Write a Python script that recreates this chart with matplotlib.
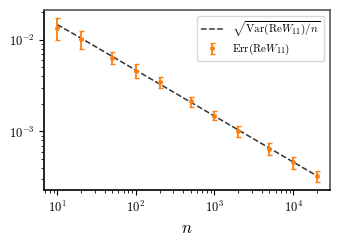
import numpy as np
import matplotlib
matplotlib.use("Agg")
import matplotlib.pyplot as plt

plt.rcParams["mathtext.fontset"] = "cm"
plt.rcParams["font.family"] = "serif"
plt.rcParams["font.serif"] = ["cmr10", "DejaVu Serif"]
plt.rcParams["axes.formatter.use_mathtext"] = True

# sample sizes
n_vals = [10, 20, 50, 100, 200, 500, 1000, 2000, 5000, 10000, 20000]

# measured error estimate and its uncertainty
err_vals = [0.0135, 0.0102, 0.00637, 0.0046, 0.00343, 0.00212,
            0.00149, 0.00102, 0.00065, 0.00046, 0.000327]
err_bars = [0.0036, 0.0023, 0.0010, 0.0008, 0.00045, 0.00026,
            0.00017, 0.00014, 0.00009, 0.00007, 0.000045]

# sqrt(Var/n) reference line
ref_vals = [0.0146, 0.0104, 0.00658, 0.00465, 0.00329, 0.00208,
            0.00147, 0.00104, 0.000658, 0.000465, 0.000329]

fig = plt.figure(figsize=(3.4, 2.4), dpi=100)
ax = fig.add_axes([0.13, 0.208, 0.84, 0.75])

ax.plot(n_vals, ref_vals, "--", color="#333333", lw=1.1,
        label=r"$\sqrt{\mathrm{Var}(\mathrm{Re}W_{11})/n}$")
ax.errorbar(n_vals, err_vals, yerr=err_bars, fmt=".", color="#ff7f0e",
            ms=5, elinewidth=1.3, capsize=1.8, capthick=1.0,
            label=r"$\mathrm{Err}(\mathrm{Re}W_{11})$")

ax.set_xscale("log")
ax.set_yscale("log")
ax.set_xlabel(r"$n$", fontsize=12)
ax.tick_params(labelsize=9)
for s in ax.spines.values():
    s.set_linewidth(1.2)
ax.spines["top"].set_color("#555555")
ax.spines["right"].set_color("#555555")

ax.legend(loc="upper right", fontsize=8, handlelength=2.0,
          labelspacing=0.25, borderpad=0.35)

fig.savefig("out.png", dpi=100)
